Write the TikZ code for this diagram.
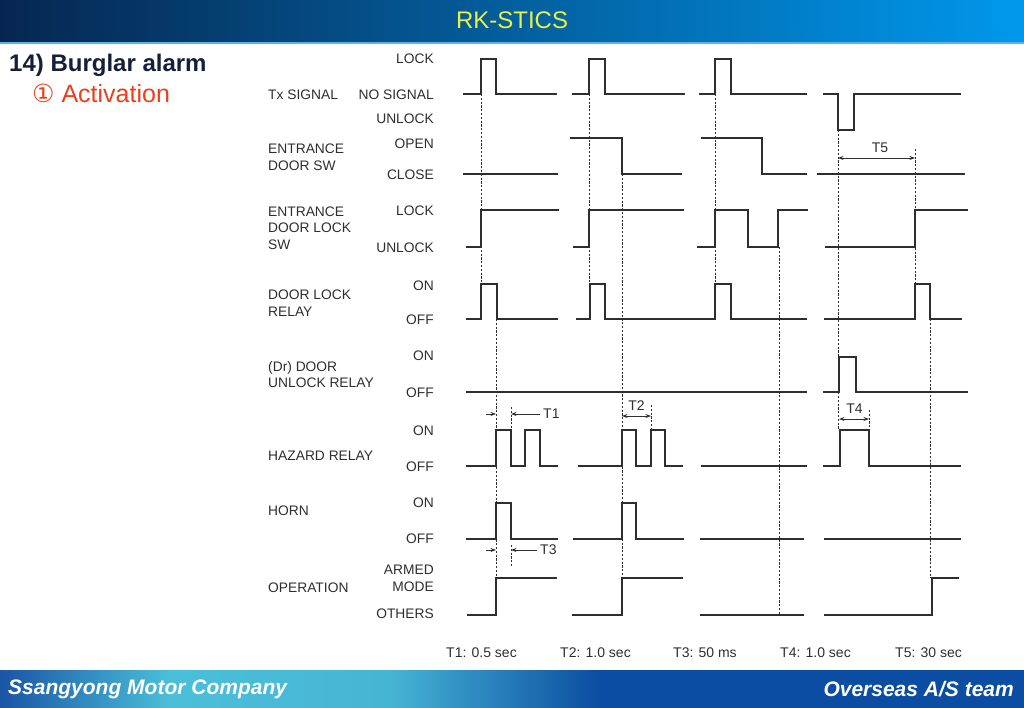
\documentclass[tikz,border=0pt]{standalone}
\usepackage{fontspec}
\setmainfont{Liberation Sans}
\newfontfamily\symfont{DejaVu Sans}
\usetikzlibrary{arrows.meta}

\definecolor{headleft}{HTML}{062650}
\definecolor{headright}{HTML}{0098EC}
\definecolor{headline}{HTML}{5DB2E6}
\definecolor{footdark}{HTML}{1A55A6}
\definecolor{footcyan}{HTML}{4BBFD9}
\definecolor{footright}{HTML}{0B4DA2}
\definecolor{titleblue}{HTML}{141F3A}
\definecolor{subred}{HTML}{E8401C}
\definecolor{rkyellow}{HTML}{E9F244}
\definecolor{ink}{HTML}{2E2E2E}

\begin{document}
\begin{tikzpicture}[
        x=1pt, y=-1pt,
        >={Stealth[length=5.5pt,width=4pt]},
        wave/.style={line width=1.5pt, draw=ink},
        help line/.style={line width=1pt, draw=ink, dash pattern=on 2.2pt off 1.6pt},
        dim/.style={line width=0.7pt, draw=ink, ->},
        siglbl/.style={font=\fontsize{13.8}{16.7}\selectfont, text=ink, inner sep=0pt},
        statelbl/.style={siglbl, anchor=east, align=right},
        signame/.style={siglbl, anchor=west, align=left},
        tlabel/.style={font=\fontsize{14}{16}\selectfont, text=ink, inner sep=0pt}
      ]
      \useasboundingbox (0,0) rectangle (1024,708);

      % Header and footer bands
      \shade[left color=headleft, right color=headright] (0,0) rectangle (1024,42);
      \fill[headline] (0,42) rectangle (1024,44.5);
      \node[font=\fontsize{24}{26}\selectfont, text=rkyellow] (head) at (512,20) {RK-STICS};

      \shade[left color=footdark, right color=footcyan] (0,670) rectangle (170,708);
      \shade[left color=footcyan, right color=footcyan!90!footdark] (170,670) rectangle (390,708);
      \shade[left color=footcyan!90!footdark, right color=footright] (390,670) rectangle (600,708);
      \fill[footright] (600,670) rectangle (1024,708);
      \node[anchor=west, font=\fontsize{21}{23}\selectfont\bfseries\itshape, text=white, inner sep=0pt]
        (company) at (8,689) {Ssangyong Motor Company};
      \node[anchor=east, font=\fontsize{21}{23}\selectfont\bfseries\itshape, text=white, inner sep=0pt]
        (team) at (1014,689) {Overseas A/S team};

      % Title
      \node[anchor=west, font=\fontsize{24}{26}\selectfont\bfseries, text=titleblue, inner sep=0pt]
        (title) at (9,65) {14) Burglar alarm};
      \node[anchor=west, font=\fontsize{25}{27}\selectfont, text=subred, inner sep=0pt]
        (subtitle) at (32,93) {{\symfont ①} Activation};

      % Signal names
      \node[signame] (n-tx)    at (268,95)    {Tx SIGNAL};
      \node[signame] (n-dsw)   at (268,157.5) {ENTRANCE\\DOOR SW};
      \node[signame] (n-dlsw)  at (268,228)   {ENTRANCE\\DOOR LOCK\\SW};
      \node[signame] (n-dlr)   at (268,303)   {DOOR LOCK\\RELAY};
      \node[signame] (n-dur)   at (268,374.5) {(Dr) DOOR\\UNLOCK RELAY};
      \node[signame] (n-haz)   at (268,456)   {HAZARD RELAY};
      \node[signame] (n-horn)  at (268,511)   {HORN};
      \node[signame] (n-op)    at (268,587.5) {OPERATION};

      % State names
      \node[statelbl] (s-lock)   at (434,58.5)  {LOCK};
      \node[statelbl] (s-nosig)  at (434,95)    {NO SIGNAL};
      \node[statelbl] (s-unlock) at (434,119)   {UNLOCK};
      \node[statelbl] (s-open)   at (434,143.5) {OPEN};
      \node[statelbl] (s-close)  at (434,174.5) {CLOSE};
      \node[statelbl] (s-lock2)  at (434,210.5) {LOCK};
      \node[statelbl] (s-unl2)   at (434,247.5) {UNLOCK};
      \node[statelbl] (s-on1)    at (434,286)   {ON};
      \node[statelbl] (s-off1)   at (434,320)   {OFF};
      \node[statelbl] (s-on2)    at (434,356)   {ON};
      \node[statelbl] (s-off2)   at (434,393)   {OFF};
      \node[statelbl] (s-on3)    at (434,430.5) {ON};
      \node[statelbl] (s-off3)   at (434,467)   {OFF};
      \node[statelbl] (s-on4)    at (434,502.5) {ON};
      \node[statelbl] (s-off4)   at (434,538.5) {OFF};
      \node[statelbl] (s-armed)  at (434,578.5) {ARMED\\MODE};
      \node[statelbl] (s-others) at (434,613.5) {OTHERS};

      % Tx signal
      \draw[wave] (463,94) -| (481,59) -| (496,94) -- (557,94);
      \draw[wave] (572,94) -| (589,59) -| (605,94) -- (685,94);
      \draw[wave] (699,94) -| (715,59) -| (731,94) -- (807,94);
      \draw[wave] (823,94) -| (838,130) -| (854,94) -- (961,94);

      % Entrance door sw
      \draw[wave] (463,174) -- (558,174);
      \draw[wave] (570,138) -| (622,174) -- (682,174);
      \draw[wave] (701,138) -| (762,174) -- (807,174);
      \draw[wave] (817,174) -- (965,174);

      % Entrance door lock sw
      \draw[wave] (466,247) -| (481,210) -- (559,210);
      \draw[wave] (573,247) -| (589,210) -- (684,210);
      \draw[wave] (697,247) -| (715,210) -| (748,247) -| (778,210) -- (808,210);
      \draw[wave] (825,247) -| (915,210) -- (968,210);

      % Door lock relay
      \draw[wave] (466,319) -| (481,284) -| (497,319) -- (558,319);
      \draw[wave] (576,319) -| (590,284) -| (605,319) -| (715,284) -| (731,319) -- (807,319);
      \draw[wave] (824,319) -| (915,284) -| (930,319) -- (962,319);

      % (Dr) door unlock relay
      \draw[wave] (466,392) -- (807,392);
      \draw[wave] (823,392) -| (839,357) -| (856,392) -- (968,392);

      % Hazard relay
      \draw[wave] (466,466) -| (496,430) -| (511,466) -| (525,430) -| (540,466) -- (558,466);
      \draw[wave] (578,466) -| (622,430) -| (636,466) -| (651,430) -| (665,466) -- (683,466);
      \draw[wave] (701,466) -- (807,466);
      \draw[wave] (823,466) -| (840,430) -| (869,466) -- (961,466);

      % Horn
      \draw[wave] (466,539) -| (496,503) -| (511,539) -- (558,539);
      \draw[wave] (573,539) -| (622,503) -| (636,539) -- (684,539);
      \draw[wave] (700,539) -- (804,539);
      \draw[wave] (824,539) -- (961,539);

      % Operation
      \draw[wave] (467,615) -| (496,578) -- (557,578);
      \draw[wave] (572,615) -| (622,578) -- (683,578);
      \draw[wave] (700,615) -- (804,615);
      \draw[wave] (824,615) -| (932,578) -- (959,578);

      % Timing guides
      \foreach \x/\ya/\yb in {481/94/284, 589/94/284, 715/94/284, 622/174/578,
                              496/319/578, 511/407/430, 651/405/430, 511/545/567,
                              779/247/615, 838/130/430, 869/410/430, 915/149/284,
                              930/319/578} {
        \draw[help line] (\x,\ya) -- (\x,\yb);
      }

      % Time marks
      \draw[dim] (486,414) -- (496,414);
      \draw[dim] (540,414) -- (511,414);
      \node[tlabel, anchor=west] (t1) at (543,414) {T1};

      \draw[dim, <->] (622,416) -- (651,416);
      \node[tlabel] (t2) at (636.5,406) {T2};

      \draw[dim] (486,550) -- (496,550);
      \draw[dim] (537,550) -- (511,550);
      \node[tlabel, anchor=west] (t3) at (540,550) {T3};

      \draw[dim, <->] (839,419) -- (869,419);
      \node[tlabel] (t4) at (854.5,409) {T4};

      \draw[dim, <->] (838,158) -- (915,158);
      \node[tlabel] (t5) at (880,148) {T5};

      % Legend
      \node[tlabel, anchor=west] (leg1) at (446,653) {T1: 0.5 sec};
      \node[tlabel, anchor=west] (leg2) at (560,653) {T2: 1.0 sec};
      \node[tlabel, anchor=west] (leg3) at (673,653) {T3: 50 ms};
      \node[tlabel, anchor=west] (leg4) at (780,653) {T4: 1.0 sec};
      \node[tlabel, anchor=west] (leg5) at (895,653) {T5: 30 sec};
    \end{tikzpicture}
\end{document}
